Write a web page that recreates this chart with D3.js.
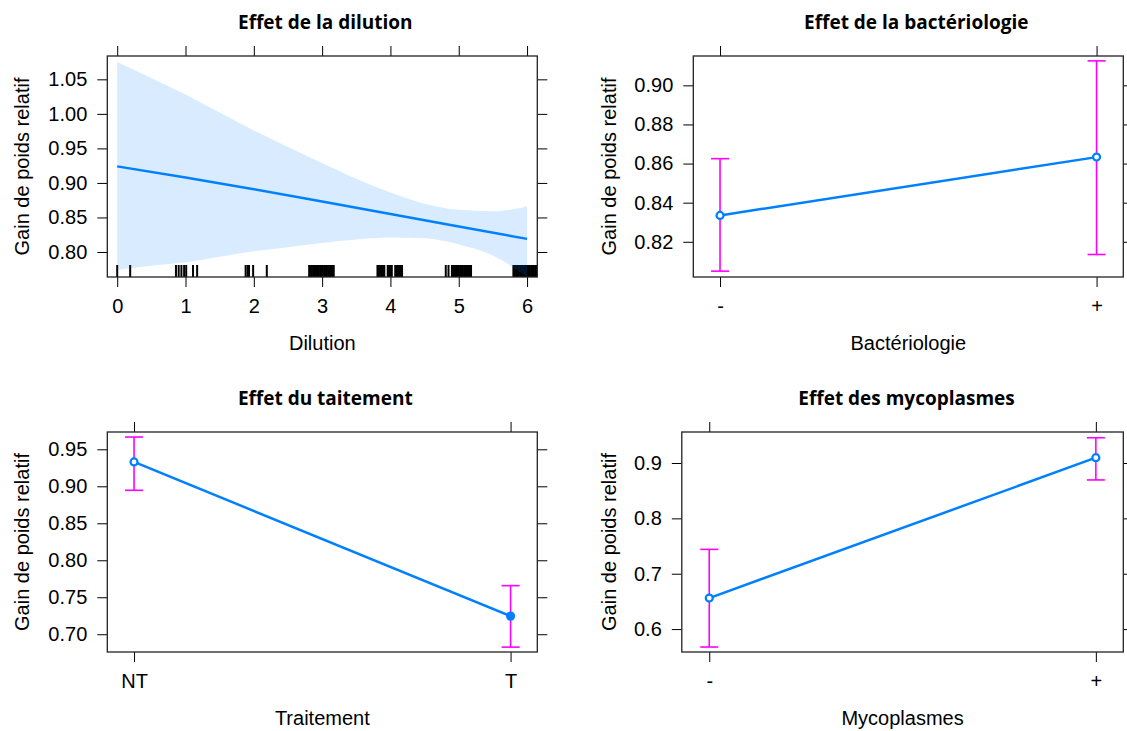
<!DOCTYPE html>
<html>
<head>
<meta charset="utf-8">
<script src="https://cdn.jsdelivr.net/npm/d3@7"></script>
<style>
  body { margin: 0; background: #fff; }
  svg { display: block; }
</style>
</head>
<body>
<svg id="chart" width="1127" height="731"></svg>
<script>
// ---- Effet de la dilution: fitted curve, confidence band, observed dilutions ----
const dilutionGrid  = [0, 1, 2, 3, 4, 5, 6];
const dilutionFit   = [0.924, 0.908, 0.891, 0.873, 0.855, 0.837, 0.819];
const dilutionBandX = [0, 0.5, 1, 1.5, 2, 2.5, 3, 3.5, 4, 4.5, 5, 5.5, 6];
const dilutionUpper = [1.075, 1.052, 1.028, 1.002, 0.976, 0.952, 0.929, 0.906, 0.886, 0.870, 0.861, 0.859, 0.866];
const dilutionLower = [0.774, 0.780, 0.785, 0.793, 0.801, 0.807, 0.813, 0.818, 0.821, 0.820, 0.811, 0.795, 0.764];
const dilutionRug = [
  0.00, 0.19,
  0.86, 0.90, 0.94, 0.98, 1.01, 1.11, 1.17,
  1.88, 1.91, 1.93, 1.99, 2.19,
  2.81, 2.83, 2.85, 2.87, 2.89, 2.91, 2.93, 2.95, 2.97, 2.99,
  3.01, 3.03, 3.05, 3.07, 3.09, 3.11, 3.13, 3.15, 3.17,
  3.81, 3.83, 3.85, 3.87, 3.89, 3.91,
  3.96, 3.98, 4.00, 4.02,
  4.07, 4.09, 4.11, 4.13, 4.15, 4.17,
  4.81, 4.85,
  4.90, 4.92, 4.94, 4.96, 4.98, 5.00, 5.02, 5.04, 5.06, 5.08, 5.10, 5.12, 5.14, 5.16, 5.18,
  5.80, 5.82, 5.84, 5.86, 5.88, 5.90, 5.92, 5.94, 5.96, 5.98,
  6.00, 6.02, 6.04, 6.06, 6.08, 6.10, 6.12, 6.14
];
const dilutionXTicks  = [0, 1, 2, 3, 4, 5, 6];
const dilutionYTicks  = [0.80, 0.85, 0.90, 0.95, 1.00, 1.05];
const dilutionXLimits = [-0.145, 6.15];
const dilutionYLimits = [0.7638, 1.0838];

// ---- Effet de la bactériologie ----
const bactLevels  = ["-", "+"];
const bactFit     = [0.8335, 0.8633];
const bactLower   = [0.8050, 0.8135];
const bactUpper   = [0.8625, 0.9125];
const bactYTicks  = [0.82, 0.84, 0.86, 0.88, 0.90];
const bactYLimits = [0.802, 0.915];

// ---- Effet du traitement ----
const traitLevels  = ["NT", "T"];
const traitFit     = [0.9330, 0.7245];
const traitLower   = [0.8946, 0.6826];
const traitUpper   = [0.9666, 0.7657];
const traitYTicks  = [0.70, 0.75, 0.80, 0.85, 0.90, 0.95];
const traitYLimits = [0.676, 0.9734];

// ---- Effet des mycoplasmes ----
const mycoLevels  = ["-", "+"];
const mycoFit     = [0.656, 0.9096];
const mycoLower   = [0.5676, 0.8694];
const mycoUpper   = [0.744, 0.9456];
const mycoYTicks  = [0.6, 0.7, 0.8, 0.9];
const mycoYLimits = [0.5586, 0.956];

const yTitle = "Gain de poids relatif";

// ---- styling ----
const LINE = "#0080ff";
const BAR = "#ff00ff";
const FONT = "'Liberation Sans', Arial, sans-serif";
const TITLE_FONT = "'Open Sans', 'Noto Sans', sans-serif";
const solidMarkers = new Set(["T"]);

const svg = d3.select("#chart");

// Panel frame: box, ticks on all four sides, labels, titles
function frame(box, x, y, xTickValues, xFormat, yTickValues, yFormat, title, xTitle, yTitleX) {
  const g = svg.append("g");

  const tickStyle = sel => {
    sel.select(".domain").remove();
    sel.selectAll(".tick line").attr("stroke", "#000").attr("stroke-width", 1);
    sel.selectAll(".tick text")
      .attr("fill", "#000")
      .style("font-family", FONT)
      .style("font-size", "20px");
  };

  g.append("g").attr("transform", `translate(0,${box.bottom})`)
    .call(d3.axisBottom(x).tickValues(xTickValues).tickSize(10).tickPadding(12).tickFormat(xFormat))
    .call(tickStyle);
  g.append("g").attr("transform", `translate(0,${box.top})`)
    .call(d3.axisTop(x).tickValues(xTickValues).tickSize(10).tickFormat(""))
    .call(tickStyle);
  g.append("g").attr("transform", `translate(${box.left},0)`)
    .call(d3.axisLeft(y).tickValues(yTickValues).tickSize(10).tickPadding(10).tickFormat(yFormat))
    .call(tickStyle);
  g.append("g").attr("transform", `translate(${box.right},0)`)
    .call(d3.axisRight(y).tickValues(yTickValues).tickSize(10).tickFormat(""))
    .call(tickStyle);

  g.append("text")
    .attr("x", (box.left + box.right) / 2 + box.titleShift)
    .attr("y", box.top - 27)
    .attr("text-anchor", "middle")
    .style("font-family", TITLE_FONT)
    .style("font-weight", "700")
    .style("font-size", "19px")
    .attr("fill", "#000")
    .text(title);

  g.append("text")
    .attr("x", (box.left + box.right) / 2)
    .attr("y", box.bottom + 73)
    .attr("text-anchor", "middle")
    .style("font-family", FONT)
    .style("font-size", "20px")
    .attr("fill", "#000")
    .text(xTitle);

  const cy = (box.top + box.bottom) / 2;
  g.append("text")
    .attr("transform", `translate(${yTitleX},${cy}) rotate(-90)`)
    .attr("text-anchor", "middle")
    .style("font-family", FONT)
    .style("font-size", "20px")
    .attr("fill", "#000")
    .text(yTitle);

  return g;
}

function outline(box) {
  svg.append("rect")
    .attr("x", box.left).attr("y", box.top)
    .attr("width", box.right - box.left).attr("height", box.bottom - box.top)
    .attr("fill", "none").attr("stroke", "#222").attr("stroke-width", 1.3);
}

// ---- numeric panel: dilution ----
function dilutionPanel(box) {
  const x = d3.scaleLinear().domain(dilutionXLimits).range([box.left, box.right]);
  const y = d3.scaleLinear().domain(dilutionYLimits).range([box.bottom, box.top]);
  frame(box, x, y, dilutionXTicks, d3.format("d"), dilutionYTicks, d3.format(".2f"),
        "Effet de la dilution", "Dilution", 28.5);

  const clipId = "clip-dilution";
  svg.append("clipPath").attr("id", clipId)
    .append("rect").attr("x", box.left).attr("y", box.top)
    .attr("width", box.right - box.left).attr("height", box.bottom - box.top);
  const inner = svg.append("g").attr("clip-path", `url(#${clipId})`);

  // observed dilutions along the bottom edge
  inner.append("g").selectAll("line").data(dilutionRug).join("line")
    .attr("x1", d => x(d)).attr("x2", d => x(d))
    .attr("y1", box.bottom - 12).attr("y2", box.bottom)
    .attr("stroke", "#000").attr("stroke-width", 2);

  const band = dilutionBandX.map((d, i) => ({ x: d, lo: dilutionLower[i], hi: dilutionUpper[i] }));
  inner.append("path").datum(band)
    .attr("d", d3.area().x(d => x(d.x)).y0(d => y(d.lo)).y1(d => y(d.hi)).curve(d3.curveMonotoneX))
    .attr("fill", LINE).attr("fill-opacity", 0.15);

  const fit = dilutionGrid.map((d, i) => ({ x: d, v: dilutionFit[i] }));
  inner.append("path").datum(fit)
    .attr("d", d3.line().x(d => x(d.x)).y(d => y(d.v)))
    .attr("fill", "none").attr("stroke", LINE).attr("stroke-width", 2.5);

  outline(box);
}

// ---- factor panel: point estimates with error bars ----
function factorPanel(box, levels, fit, lower, upper, yTicks, yLimits, yFormat, title, xTitle, yTitleX) {
  const x = d3.scalePoint().domain(levels).range([box.left, box.right]).padding(0.071);
  const y = d3.scaleLinear().domain(yLimits).range([box.bottom, box.top]);
  frame(box, x, y, levels, d => d, yTicks, yFormat, title, xTitle, yTitleX);

  const rows = levels.map((k, i) => ({ k, v: fit[i], lo: lower[i], hi: upper[i] }));
  const g = svg.append("g");

  g.append("path").datum(rows)
    .attr("d", d3.line().x(d => x(d.k)).y(d => y(d.v)))
    .attr("fill", "none").attr("stroke", LINE).attr("stroke-width", 2.5);

  const bars = g.append("g").attr("stroke", BAR).attr("stroke-width", 1.6).attr("fill", "none");
  bars.selectAll(".stem").data(rows).join("line").attr("class", "stem")
    .attr("x1", d => x(d.k)).attr("x2", d => x(d.k))
    .attr("y1", d => y(d.lo)).attr("y2", d => y(d.hi));
  bars.selectAll(".capHi").data(rows).join("line").attr("class", "capHi")
    .attr("x1", d => x(d.k) - 9).attr("x2", d => x(d.k) + 9)
    .attr("y1", d => y(d.hi)).attr("y2", d => y(d.hi));
  bars.selectAll(".capLo").data(rows).join("line").attr("class", "capLo")
    .attr("x1", d => x(d.k) - 9).attr("x2", d => x(d.k) + 9)
    .attr("y1", d => y(d.lo)).attr("y2", d => y(d.lo));

  g.selectAll("circle").data(rows).join("circle")
    .attr("cx", d => x(d.k)).attr("cy", d => y(d.v)).attr("r", 3.5)
    .attr("fill", d => solidMarkers.has(d.k) ? LINE : "#fff")
    .attr("stroke", LINE).attr("stroke-width", 2.2);

  outline(box);
}

dilutionPanel({ left: 107.3, right: 537.3, top: 56, bottom: 277, titleShift: 3 });

factorPanel({ left: 693.3, right: 1123.3, top: 56, bottom: 277, titleShift: 8 },
  bactLevels, bactFit, bactLower, bactUpper, bactYTicks, bactYLimits, d3.format(".2f"),
  "Effet de la bactériologie", "Bactériologie", 615.5);

factorPanel({ left: 107.3, right: 537.3, top: 432, bottom: 652, titleShift: 3 },
  traitLevels, traitFit, traitLower, traitUpper, traitYTicks, traitYLimits, d3.format(".2f"),
  "Effet du taitement", "Traitement", 28.5);

factorPanel({ left: 681.8, right: 1123.3, top: 432, bottom: 652, titleShift: 4 },
  mycoLevels, mycoFit, mycoLower, mycoUpper, mycoYTicks, mycoYLimits, d3.format(".1f"),
  "Effet des mycoplasmes", "Mycoplasmes", 615.5);
</script>
</body>
</html>
